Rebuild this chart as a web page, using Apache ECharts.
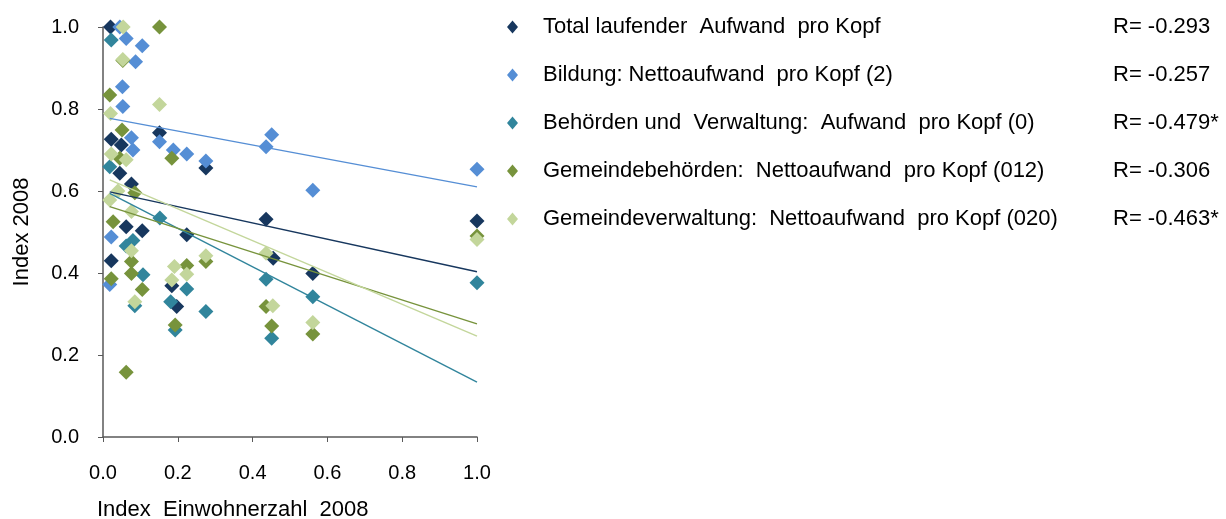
<!doctype html>
<html>

	<head>
		<meta charset="utf-8">
		<title>Index 2008</title>
		<style>
			html, body { margin: 0; padding: 0; background: #fff; }
			#chart { width: 1226px; height: 519px; }
		</style>
	</head>

	<body>
		<div id="chart"></div>
		<script src="https://cdn.jsdelivr.net/npm/echarts/dist/echarts.min.js"></script>
		<script type="text/javascript">
			// Reihen (Punkte: [Index Einwohnerzahl, Index])
			var names = [
				'Total laufender  Aufwand  pro Kopf',
				'Bildung: Nettoaufwand  pro Kopf (2)',
				'Behörden und  Verwaltung:  Aufwand  pro Kopf (0)',
				'Gemeindebehörden:  Nettoaufwand  pro Kopf (012)',
				'Gemeindeverwaltung:  Nettoaufwand  pro Kopf (020)'
			];
			var rValues = ['R= -0.293', 'R= -0.257', 'R= -0.479*', 'R= -0.306', 'R= -0.463*'];
			var colors = ['#17375E', '#558ED5', '#31859C', '#77933C', '#C3D69B'];

			var totalPts = [[0.02, 1.0], [0.022, 0.726], [0.049, 0.712], [0.045, 0.643], [0.076, 0.617],
				[0.062, 0.513], [0.105, 0.503], [0.022, 0.43], [0.151, 0.742], [0.275, 0.656],
				[0.224, 0.493], [0.184, 0.369], [0.197, 0.318], [0.436, 0.531], [0.455, 0.436],
				[0.561, 0.399], [1.0, 0.527]];
			var bildungPts = [[0.045, 1.0], [0.062, 0.972], [0.105, 0.954], [0.087, 0.915], [0.052, 0.854],
				[0.053, 0.806], [0.076, 0.73], [0.08, 0.70], [0.151, 0.72], [0.188, 0.70],
				[0.224, 0.69], [0.275, 0.673], [0.451, 0.737], [0.436, 0.708], [0.561, 0.602],
				[1.0, 0.653], [0.022, 0.488], [0.018, 0.372]];
			var behoerdenPts = [[0.022, 0.968], [0.018, 0.659], [0.152, 0.534], [0.08, 0.479], [0.062, 0.466],
				[0.107, 0.396], [0.085, 0.32], [0.224, 0.361], [0.181, 0.33], [0.275, 0.306],
				[0.193, 0.261], [0.436, 0.385], [0.561, 0.342], [0.451, 0.241], [1.0, 0.376]];
			var gemBehPts = [[0.151, 1.0], [0.053, 0.918], [0.018, 0.834], [0.051, 0.749], [0.045, 0.68],
				[0.184, 0.68], [0.085, 0.596], [0.027, 0.525], [0.076, 0.428], [0.022, 0.386],
				[0.076, 0.399], [0.105, 0.36], [0.062, 0.158], [0.275, 0.428], [0.224, 0.418],
				[0.193, 0.273], [0.436, 0.318], [0.451, 0.271], [0.561, 0.251], [1.0, 0.49]];
			var gemVerwPts = [[0.054, 1.0], [0.053, 0.921], [0.151, 0.811], [0.02, 0.789], [0.022, 0.69],
				[0.062, 0.676], [0.04, 0.6], [0.018, 0.578], [0.076, 0.55], [0.076, 0.454],
				[0.085, 0.33], [0.275, 0.442], [0.191, 0.416], [0.224, 0.397], [0.184, 0.383],
				[0.436, 0.448], [0.454, 0.32], [0.561, 0.279], [1.0, 0.482]];

			// Trendlinien: Werte bei x = 0.018 und x = 1.0
			var trendX = [0.018, 1.0];
			var trendStart = [0.598, 0.777, 0.594, 0.562, 0.627];
			var trendEnd = [0.403, 0.61, 0.134, 0.276, 0.246];

			var xTicks = ['0.0', '0.2', '0.4', '0.6', '0.8', '1.0'];

			chartInit();

			function chartInit() {
				var myChart = echarts.init(document.getElementById('chart'));
				var allPts = [totalPts, bildungPts, behoerdenPts, gemBehPts, gemVerwPts];
				var fontFamily = "'Liberation Sans', Arial, sans-serif";

				var series = [];
				for (var i = 0; i < allPts.length; i++) {
					series.push({
						name: names[i],
						type: 'scatter',
						symbol: 'diamond',
						symbolSize: 15,
						itemStyle: { color: colors[i], opacity: 1 },
						data: allPts[i],
						z: 2 + i
					});
				}
				for (var j = 0; j < trendStart.length; j++) {
					series.push({
						name: 'trend' + j,
						type: 'line',
						symbol: 'none',
						silent: true,
						lineStyle: { color: colors[j], width: 1.4 },
						data: [[trendX[0], trendStart[j]], [trendX[1], trendEnd[j]]],
						z: 10
					});
				}

				var option = {
					animation: false,
					backgroundColor: '#fff',
					textStyle: { fontFamily: fontFamily },
					grid: {
						left: 103,
						top: 27,
						width: 374,
						height: 410
					},
					legend: {
						data: names,
						orient: 'vertical',
						left: 502,
						top: 11,
						icon: 'diamond',
						itemWidth: 11,
						itemHeight: 13,
						symbolKeepAspect: false,
						itemGap: 26,
						selectedMode: false,
						formatter: function(name) {
							return '{n|' + name + '}{r|' + rValues[names.indexOf(name)] + '}';
						},
						textStyle: {
							rich: {
								n: { fontSize: 22, lineHeight: 23, color: '#000', width: 570, padding: [0, 0, 0, 20], fontFamily: fontFamily },
								r: { fontSize: 22, lineHeight: 23, color: '#000', fontFamily: fontFamily }
							}
						}
					},
					xAxis: {
						type: 'value',
						min: 0,
						max: 1,
						interval: 0.2,
						splitLine: { show: false },
						axisLine: { onZero: false, lineStyle: { color: '#595959', width: 1.5 } },
						axisTick: { show: true, length: 5, lineStyle: { color: '#595959' } },
						axisLabel: {
							fontSize: 20,
							color: '#000',
							margin: 26,
							formatter: function(v) {
								return xTicks[Math.round(v / 0.2)];
							}
						}
					},
					yAxis: {
						type: 'value',
						min: 0,
						max: 1,
						interval: 0.2,
						name: 'Index 2008',
						nameLocation: 'middle',
						nameGap: 70,
						nameTextStyle: { fontSize: 22, color: '#000' },
						splitLine: { show: false },
						axisLine: { show: true, lineStyle: { color: '#595959', width: 1.5 } },
						axisTick: { show: true, length: 5, lineStyle: { color: '#595959' } },
						axisLabel: {
							fontSize: 20,
							color: '#000',
							margin: 24,
							formatter: function(v) {
								return v.toFixed(1);
							}
						}
					},
					graphic: [{
						type: 'text',
						left: 97,
						top: 499,
						style: {
							text: 'Index  Einwohnerzahl  2008',
							fontSize: 22,
							fill: '#000',
							fontFamily: fontFamily
						}
					}],
					series: series
				};
				myChart.setOption(option);
			}
		</script>
	</body>

</html>
